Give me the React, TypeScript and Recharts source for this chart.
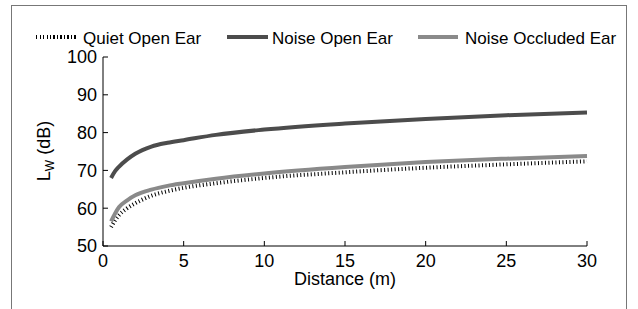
import { Line, LineChart, XAxis, YAxis } from "recharts";

// Values
const distance = [0.5, 0.75, 1, 1.5, 2, 3, 4, 5, 7, 10, 15, 20, 25, 30];
const quietOpen = [55, 56.8, 58.2, 60, 61.3, 63.3, 64.5, 65.4, 66.6, 68, 69.5, 70.7, 71.6, 72.4];
const noiseOpen = [68, 69.8, 71, 72.9, 74.4, 76.3, 77.3, 78, 79.4, 80.8, 82.4, 83.6, 84.6, 85.3];
const noiseOccluded = [56.5, 58.6, 60.3, 62.1, 63.4, 64.9, 65.9, 66.6, 67.8, 69.2, 70.9, 72.2, 73.1, 73.8];

const xTicks = [0, 5, 10, 15, 20, 25, 30];
const yTicks = [50, 60, 70, 80, 90, 100];

const data = distance.map((d, i) => ({
    d,
    quiet: quietOpen[i],
    noise: noiseOpen[i],
    occluded: noiseOccluded[i],
}));

const FONT = "'Liberation Sans', Arial, sans-serif";
const DARK = "#4c4c4c";
const LIGHT = "#8a8a8a";

const tickStyle = { fill: "#000", fontSize: 18, fontFamily: FONT };

function YLabel() {
    return (
        <text
            x={50}
            y={151}
            transform="rotate(-90 50 151)"
            textAnchor="middle"
            fontSize={18}
            fontFamily={FONT}
            fill="#000"
        >
            L
            <tspan dy={4} fontSize={12}>
                W
            </tspan>
            <tspan dy={-4}> (dB)</tspan>
        </text>
    );
}

function XLabel() {
    return (
        <text x={345} y={285} textAnchor="middle" fontSize={18} fontFamily={FONT} fill="#000">
            Distance (m)
        </text>
    );
}

const legendItems = [
    { label: "Quiet Open Ear", x: 36, textX: 83, w: 40, style: "dotted" },
    { label: "Noise Open Ear", x: 227, textX: 272, w: 41, style: "dark" },
    { label: "Noise Occluded Ear", x: 418, textX: 465, w: 40, style: "light" },
];

function swatch(style: string) {
    if (style === "dotted") {
        return {
            height: 4,
            top: 35,
            background: "repeating-linear-gradient(90deg, #000 0 1px, transparent 1px 3.5px)",
        };
    }
    return { height: 4, top: 35, background: style === "dark" ? DARK : LIGHT };
}

export default function App() {
    return (
        <div
            style={{
                position: "absolute",
                left: 0,
                top: 0,
                width: 638,
                height: 309,
                overflow: "hidden",
                background: "#fff",
                fontFamily: FONT,
            }}
        >
            <div
                style={{
                    position: "absolute",
                    left: 11,
                    top: 5,
                    width: 614,
                    height: 340,
                    border: "1px solid #777",
                }}
            />
            {legendItems.map((it) => (
                <div key={it.label}>
                    <div
                        style={{
                            position: "absolute",
                            left: it.x,
                            width: it.w,
                            ...swatch(it.style),
                        }}
                    />
                    <div
                        style={{
                            position: "absolute",
                            left: it.textX,
                            top: 29,
                            fontSize: 17,
                            lineHeight: "19px",
                            color: "#000",
                            whiteSpace: "nowrap",
                        }}
                    >
                        {it.label}
                    </div>
                </div>
            ))}
            <LineChart
                width={638}
                height={309}
                data={data}
                margin={{ top: 57, right: 51, bottom: 33, left: 43 }}
                style={{ position: "absolute", left: 0, top: 0 }}
            >
                <XAxis
                    dataKey="d"
                    type="number"
                    domain={[0, 30]}
                    ticks={xTicks}
                    height={30}
                    tickSize={-5}
                    tickMargin={13}
                    tick={tickStyle}
                    stroke="#000"
                    label={<XLabel />}
                />
                <XAxis
                    xAxisId="top"
                    dataKey="d"
                    type="number"
                    orientation="top"
                    domain={[0, 30]}
                    ticks={xTicks}
                    height={0}
                    tickSize={-5}
                    tickFormatter={() => ""}
                    stroke="#000"
                />
                <YAxis
                    type="number"
                    domain={[50, 100]}
                    ticks={yTicks}
                    width={60}
                    tickSize={-5}
                    tickMargin={11}
                    tick={tickStyle}
                    stroke="#000"
                    label={<YLabel />}
                />
                <YAxis
                    yAxisId="right"
                    orientation="right"
                    type="number"
                    domain={[50, 100]}
                    ticks={yTicks}
                    width={0}
                    tickSize={-5}
                    tickFormatter={() => ""}
                    stroke="#000"
                />
                <Line
                    dataKey="quiet"
                    type="monotone"
                    stroke="#000"
                    strokeWidth={4}
                    strokeDasharray="1 2.5"
                    dot={false}
                    isAnimationActive={false}
                />
                <Line
                    dataKey="noise"
                    type="monotone"
                    stroke={DARK}
                    strokeWidth={4}
                    dot={false}
                    isAnimationActive={false}
                />
                <Line
                    dataKey="occluded"
                    type="monotone"
                    stroke={LIGHT}
                    strokeWidth={4}
                    dot={false}
                    isAnimationActive={false}
                />
            </LineChart>
        </div>
    );
}
